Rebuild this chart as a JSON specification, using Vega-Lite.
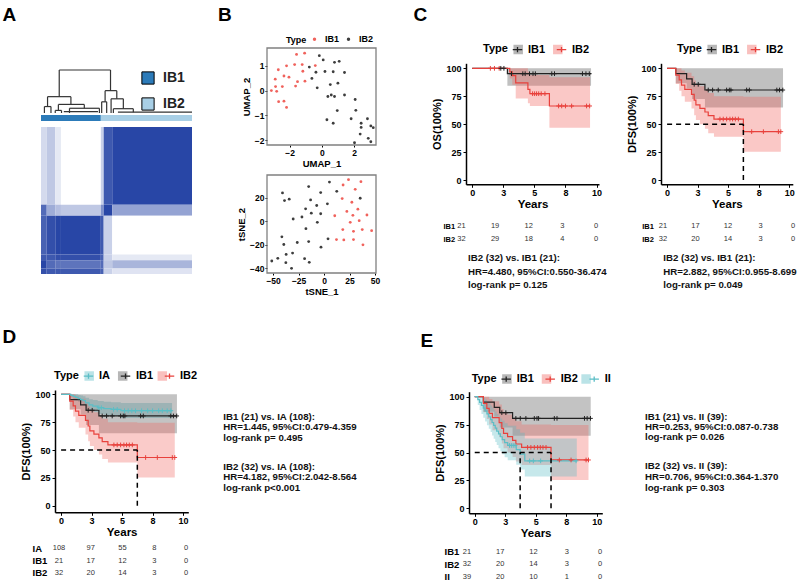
{
  "$schema": "https://vega.github.io/schema/vega-lite/v6.json",
  "width": 799,
  "height": 583,
  "autosize": {"type": "none"},
  "padding": 0,
  "background": "white",
  "config": {
    "font": "Liberation Sans",
    "view": {"stroke": null},
    "axis": {"grid": false, "labelColor": "black", "titleColor": "black", "labelFontWeight": "bold", "titleFontWeight": "bold", "domainColor": "black", "tickColor": "black"},
    "legend": {"labelColor": "black", "titleColor": "black", "padding": 0}
  },
  "datasets": {
    "dendro": [
      {"x1": 6.4, "x2": 24.4, "h1": 1, "h2": 1},
      {"x1": 6.4, "x2": 6.4, "h1": 1, "h2": 0.38},
      {"x1": 24.4, "x2": 24.4, "h1": 1, "h2": 0.52},
      {"x1": 2.3, "x2": 10.5, "h1": 0.38, "h2": 0.38},
      {"x1": 2.3, "x2": 2.3, "h1": 0.38, "h2": 0.15},
      {"x1": 10.5, "x2": 10.5, "h1": 0.38, "h2": 0.2},
      {"x1": 1.2, "x2": 3.5, "h1": 0.15, "h2": 0.15},
      {"x1": 1.2, "x2": 1.2, "h1": 0.15, "h2": 0},
      {"x1": 3.5, "x2": 3.5, "h1": 0.15, "h2": 0},
      {"x1": 6.1, "x2": 15.2, "h1": 0.2, "h2": 0.2},
      {"x1": 6.1, "x2": 6.1, "h1": 0.2, "h2": 0.06},
      {"x1": 15.2, "x2": 15.2, "h1": 0.2, "h2": 0.11},
      {"x1": 5, "x2": 7.2, "h1": 0.06, "h2": 0.06},
      {"x1": 5, "x2": 5, "h1": 0.06, "h2": 0},
      {"x1": 7.2, "x2": 7.2, "h1": 0.06, "h2": 0},
      {"x1": 10, "x2": 20.5, "h1": 0.11, "h2": 0.11},
      {"x1": 10, "x2": 10, "h1": 0.11, "h2": 0},
      {"x1": 20.5, "x2": 20.5, "h1": 0.11, "h2": 0},
      {"x1": 8, "x2": 20, "h1": 0.03, "h2": 0.03},
      {"x1": 22.5, "x2": 26.6, "h1": 0.52, "h2": 0.52},
      {"x1": 22.5, "x2": 22.5, "h1": 0.52, "h2": 0.26},
      {"x1": 26.6, "x2": 26.6, "h1": 0.52, "h2": 0.33},
      {"x1": 21.3, "x2": 23.05, "h1": 0.26, "h2": 0.26},
      {"x1": 21.3, "x2": 21.3, "h1": 0.26, "h2": 0},
      {"x1": 23.05, "x2": 23.05, "h1": 0.26, "h2": 0},
      {"x1": 24.6, "x2": 28.9, "h1": 0.33, "h2": 0.33},
      {"x1": 24.6, "x2": 24.6, "h1": 0.33, "h2": 0},
      {"x1": 28.9, "x2": 28.9, "h1": 0.33, "h2": 0.1},
      {"x1": 25.4, "x2": 32.4, "h1": 0.1, "h2": 0.1},
      {"x1": 25.4, "x2": 25.4, "h1": 0.1, "h2": 0},
      {"x1": 32.4, "x2": 32.4, "h1": 0.1, "h2": 0.02},
      {"x1": 27, "x2": 53, "h1": 0.02, "h2": 0.02}
    ],
    "subtype": [
      {"type": "IB1", "i0": 0, "i1": 21},
      {"type": "IB2", "i0": 21, "i1": 53}
    ],
    "consensus": [
      {"c0": 0, "c1": 2, "r0": 0, "r1": 28, "v": 0.2},
      {"c0": 2, "c1": 5, "r0": 0, "r1": 28, "v": 0.3},
      {"c0": 5, "c1": 7, "r0": 0, "r1": 28, "v": 0.12},
      {"c0": 7, "c1": 21, "r0": 0, "r1": 28, "v": 0},
      {"c0": 21, "c1": 22, "r0": 0, "r1": 28, "v": 0.25},
      {"c0": 22, "c1": 25, "r0": 0, "r1": 28, "v": 0.9},
      {"c0": 25, "c1": 53, "r0": 0, "r1": 28, "v": 1},
      {"c0": 0, "c1": 2, "r0": 28, "r1": 32, "v": 0.8},
      {"c0": 2, "c1": 5, "r0": 28, "r1": 32, "v": 0.45},
      {"c0": 5, "c1": 7, "r0": 28, "r1": 32, "v": 0.35},
      {"c0": 7, "c1": 21, "r0": 28, "r1": 32, "v": 0.3},
      {"c0": 21, "c1": 22, "r0": 28, "r1": 32, "v": 0.6},
      {"c0": 22, "c1": 25, "r0": 28, "r1": 32, "v": 1},
      {"c0": 25, "c1": 53, "r0": 28, "r1": 32, "v": 0.5},
      {"c0": 0, "c1": 2, "r0": 32, "r1": 46, "v": 0.85},
      {"c0": 2, "c1": 5, "r0": 32, "r1": 46, "v": 0.95},
      {"c0": 5, "c1": 7, "r0": 32, "r1": 46, "v": 1},
      {"c0": 7, "c1": 21, "r0": 32, "r1": 46, "v": 1},
      {"c0": 21, "c1": 22, "r0": 32, "r1": 46, "v": 0.9},
      {"c0": 22, "c1": 25, "r0": 32, "r1": 46, "v": 0.25},
      {"c0": 25, "c1": 53, "r0": 32, "r1": 46, "v": 0},
      {"c0": 0, "c1": 2, "r0": 46, "r1": 48, "v": 0.9},
      {"c0": 2, "c1": 5, "r0": 46, "r1": 48, "v": 0.9},
      {"c0": 5, "c1": 7, "r0": 46, "r1": 48, "v": 0.95},
      {"c0": 7, "c1": 21, "r0": 46, "r1": 48, "v": 0.95},
      {"c0": 21, "c1": 22, "r0": 46, "r1": 48, "v": 0.85},
      {"c0": 22, "c1": 25, "r0": 46, "r1": 48, "v": 0.25},
      {"c0": 25, "c1": 53, "r0": 46, "r1": 48, "v": 0.12},
      {"c0": 0, "c1": 2, "r0": 48, "r1": 51, "v": 1},
      {"c0": 2, "c1": 5, "r0": 48, "r1": 51, "v": 0.8},
      {"c0": 5, "c1": 7, "r0": 48, "r1": 51, "v": 0.75},
      {"c0": 7, "c1": 21, "r0": 48, "r1": 51, "v": 0.75},
      {"c0": 21, "c1": 22, "r0": 48, "r1": 51, "v": 0.8},
      {"c0": 22, "c1": 25, "r0": 48, "r1": 51, "v": 0.3},
      {"c0": 25, "c1": 53, "r0": 48, "r1": 51, "v": 0.4},
      {"c0": 0, "c1": 2, "r0": 51, "r1": 53, "v": 0.95},
      {"c0": 2, "c1": 5, "r0": 51, "r1": 53, "v": 0.9},
      {"c0": 5, "c1": 7, "r0": 51, "r1": 53, "v": 0.9},
      {"c0": 7, "c1": 21, "r0": 51, "r1": 53, "v": 0.9},
      {"c0": 21, "c1": 22, "r0": 51, "r1": 53, "v": 0.85},
      {"c0": 22, "c1": 25, "r0": 51, "r1": 53, "v": 0.25},
      {"c0": 25, "c1": 53, "r0": 51, "r1": 53, "v": 0.15}
    ],
    "umap": [
      {"x": -1.57, "y": 1.46, "type": "IB1"}, {"x": -1.07, "y": 1.51, "type": "IB1"}, {"x": -2.7, "y": 0.84, "type": "IB1"},
      {"x": -2.19, "y": 1.0, "type": "IB1"}, {"x": -2.89, "y": 0.46, "type": "IB1"}, {"x": -2.35, "y": 0.59, "type": "IB1"},
      {"x": -2.04, "y": 0.54, "type": "IB1"}, {"x": -1.69, "y": 1.05, "type": "IB1"}, {"x": -1.22, "y": 1.05, "type": "IB1"},
      {"x": -1.18, "y": 0.78, "type": "IB1"}, {"x": -0.41, "y": 1.01, "type": "IB1"}, {"x": -1.51, "y": 0.36, "type": "IB1"},
      {"x": -1.05, "y": 0.38, "type": "IB1"}, {"x": -1.63, "y": 0.18, "type": "IB1"}, {"x": -2.87, "y": 0.16, "type": "IB1"},
      {"x": -2.45, "y": 0.16, "type": "IB1"}, {"x": -3.13, "y": 0.0, "type": "IB1"}, {"x": -2.8, "y": -0.03, "type": "IB1"},
      {"x": -2.68, "y": -0.45, "type": "IB1"}, {"x": -2.35, "y": -0.43, "type": "IB1"}, {"x": -2.19, "y": -0.68, "type": "IB1"},
      {"x": -0.78, "y": 0.95, "type": "IB2"}, {"x": -0.16, "y": 1.41, "type": "IB2"}, {"x": 0.08, "y": 1.24, "type": "IB2"},
      {"x": -0.37, "y": 0.74, "type": "IB2"}, {"x": -0.62, "y": 0.49, "type": "IB2"}, {"x": -0.29, "y": 0.11, "type": "IB2"},
      {"x": 0.19, "y": 0.77, "type": "IB2"}, {"x": 0.7, "y": 0.76, "type": "IB2"}, {"x": 0.78, "y": 1.14, "type": "IB2"},
      {"x": 1.07, "y": 1.18, "type": "IB2"}, {"x": 1.4, "y": 0.73, "type": "IB2"}, {"x": 0.52, "y": 0.24, "type": "IB2"},
      {"x": 0.99, "y": 0.3, "type": "IB2"}, {"x": 0.37, "y": -0.24, "type": "IB2"}, {"x": 0.58, "y": -0.18, "type": "IB2"},
      {"x": 0.78, "y": -0.24, "type": "IB2"}, {"x": 1.4, "y": -0.18, "type": "IB2"}, {"x": 2.06, "y": -0.36, "type": "IB2"},
      {"x": 0.95, "y": -0.81, "type": "IB2"}, {"x": 2.1, "y": -0.8, "type": "IB2"}, {"x": 0.31, "y": -1.18, "type": "IB2"},
      {"x": 0.7, "y": -1.32, "type": "IB2"}, {"x": 1.81, "y": -1.14, "type": "IB2"}, {"x": 2.82, "y": -1.14, "type": "IB2"},
      {"x": 2.43, "y": -1.32, "type": "IB2"}, {"x": 2.43, "y": -1.49, "type": "IB2"}, {"x": 3.03, "y": -1.43, "type": "IB2"},
      {"x": 3.18, "y": -1.5, "type": "IB2"}, {"x": 2.37, "y": -1.76, "type": "IB2"}, {"x": 2.87, "y": -1.93, "type": "IB2"},
      {"x": 3.03, "y": -2.07, "type": "IB2"}, {"x": 2.02, "y": -2.11, "type": "IB2"}
    ],
    "tsne": [
      {"x": -40.8, "y": 24.2, "type": "IB2"}, {"x": -38.8, "y": 17.7, "type": "IB2"}, {"x": -34.2, "y": 18.9, "type": "IB2"},
      {"x": -15.1, "y": 29.6, "type": "IB2"}, {"x": -13.2, "y": 18.3, "type": "IB2"}, {"x": -3.3, "y": 24.5, "type": "IB2"},
      {"x": 5.3, "y": 33.5, "type": "IB2"}, {"x": 12.5, "y": 25.6, "type": "IB2"}, {"x": 3.3, "y": 14.9, "type": "IB2"},
      {"x": -7.2, "y": 13.5, "type": "IB2"}, {"x": -18.1, "y": 10.7, "type": "IB2"}, {"x": -12.5, "y": 7.0, "type": "IB2"},
      {"x": -3.3, "y": 6.5, "type": "IB2"}, {"x": -30.3, "y": 2.0, "type": "IB2"}, {"x": -21.7, "y": 3.7, "type": "IB2"},
      {"x": -6.6, "y": -0.8, "type": "IB2"}, {"x": -17.8, "y": -6.2, "type": "IB2"}, {"x": -41.4, "y": -13.2, "type": "IB2"},
      {"x": -39.5, "y": -19.7, "type": "IB2"}, {"x": -26.3, "y": -18.0, "type": "IB2"}, {"x": -15.1, "y": -17.2, "type": "IB2"},
      {"x": 3.9, "y": -14.9, "type": "IB2"}, {"x": -3.0, "y": -22.0, "type": "IB2"}, {"x": -37.2, "y": -28.2, "type": "IB2"},
      {"x": -30.9, "y": -27.0, "type": "IB2"}, {"x": -45.4, "y": -31.5, "type": "IB2"}, {"x": -51.3, "y": -33.8, "type": "IB2"},
      {"x": -37.5, "y": -35.2, "type": "IB2"}, {"x": -31.9, "y": -40.0, "type": "IB2"}, {"x": -19.1, "y": -31.8, "type": "IB2"},
      {"x": -14.5, "y": -34.9, "type": "IB2"}, {"x": 35.5, "y": 19.7, "type": "IB2"},
      {"x": 18.7, "y": 31.0, "type": "IB1"}, {"x": 24.0, "y": 35.5, "type": "IB1"}, {"x": 36.2, "y": 33.8, "type": "IB1"},
      {"x": 30.6, "y": 27.3, "type": "IB1"}, {"x": 17.8, "y": 19.4, "type": "IB1"}, {"x": 27.3, "y": 16.3, "type": "IB1"},
      {"x": 22.4, "y": 8.5, "type": "IB1"}, {"x": 33.2, "y": 10.4, "type": "IB1"}, {"x": 42.1, "y": 5.4, "type": "IB1"},
      {"x": 28.3, "y": 5.1, "type": "IB1"}, {"x": 10.5, "y": 4.8, "type": "IB1"}, {"x": 25.7, "y": -0.8, "type": "IB1"},
      {"x": 34.5, "y": 0.6, "type": "IB1"}, {"x": 18.4, "y": -7.0, "type": "IB1"}, {"x": 28.9, "y": -8.5, "type": "IB1"},
      {"x": 37.5, "y": -7.0, "type": "IB1"}, {"x": 46.7, "y": -7.9, "type": "IB1"}, {"x": 12.2, "y": -15.5, "type": "IB1"},
      {"x": 19.4, "y": -15.8, "type": "IB1"}, {"x": 28.9, "y": -15.5, "type": "IB1"}, {"x": 38.2, "y": -20.0, "type": "IB1"}
    ],
    "os": [
      {"g": "IB1", "t": 0, "s": 100, "lo": 100, "hi": 100},
      {"g": "IB1", "t": 2.83, "s": 95.2, "lo": 84.5, "hi": 100},
      {"g": "IB1", "t": 9.56, "s": 95.2, "lo": 84.5, "hi": 100},
      {"g": "IB2", "t": 0, "s": 100, "lo": 100, "hi": 100},
      {"g": "IB2", "t": 3.02, "s": 96.8, "lo": 90.8, "hi": 100},
      {"g": "IB2", "t": 3.22, "s": 93.5, "lo": 85.4, "hi": 100},
      {"g": "IB2", "t": 3.5, "s": 86.9, "lo": 73.1, "hi": 100},
      {"g": "IB2", "t": 4.48, "s": 81.2, "lo": 68.7, "hi": 97},
      {"g": "IB2", "t": 4.64, "s": 77.3, "lo": 66.3, "hi": 94},
      {"g": "IB2", "t": 6.21, "s": 66.3, "lo": 46.9, "hi": 92},
      {"g": "IB2", "t": 9.48, "s": 66.3, "lo": 46.9, "hi": 92}
    ],
    "os_cens": [
      {"g": "IB2", "t": 1.46, "s": 100}, {"g": "IB2", "t": 1.79, "s": 100}, {"g": "IB2", "t": 2.17, "s": 100},
      {"g": "IB1", "t": 2.3, "s": 100}, {"g": "IB1", "t": 2.55, "s": 100},
      {"g": "IB1", "t": 3.16, "s": 95.2}, {"g": "IB1", "t": 4.07, "s": 95.2}, {"g": "IB1", "t": 4.26, "s": 95.2},
      {"g": "IB1", "t": 4.61, "s": 95.2}, {"g": "IB1", "t": 4.89, "s": 95.2}, {"g": "IB1", "t": 5.08, "s": 95.2},
      {"g": "IB1", "t": 6.4, "s": 95.2}, {"g": "IB1", "t": 6.62, "s": 95.2}, {"g": "IB1", "t": 8.87, "s": 95.2},
      {"g": "IB1", "t": 9.15, "s": 95.2}, {"g": "IB1", "t": 9.42, "s": 95.2},
      {"g": "IB2", "t": 4.86, "s": 77.3}, {"g": "IB2", "t": 5.02, "s": 77.3}, {"g": "IB2", "t": 5.18, "s": 77.3},
      {"g": "IB2", "t": 5.35, "s": 77.3}, {"g": "IB2", "t": 5.55, "s": 77.3}, {"g": "IB2", "t": 5.85, "s": 77.3},
      {"g": "IB2", "t": 6.95, "s": 66.3}, {"g": "IB2", "t": 7.2, "s": 66.3}, {"g": "IB2", "t": 7.5, "s": 66.3},
      {"g": "IB2", "t": 8.0, "s": 66.3}, {"g": "IB2", "t": 9.2, "s": 66.3}, {"g": "IB2", "t": 9.45, "s": 66.3}
    ],
    "dfs": [
      {"g": "IB1", "t": 0, "s": 100, "lo": 100, "hi": 100},
      {"g": "IB1", "t": 0.71, "s": 95.2, "lo": 86.6, "hi": 100},
      {"g": "IB1", "t": 1.6, "s": 90.5, "lo": 82, "hi": 100},
      {"g": "IB1", "t": 2.05, "s": 85.7, "lo": 72.5, "hi": 100},
      {"g": "IB1", "t": 3.1, "s": 80.6, "lo": 65, "hi": 100},
      {"g": "IB1", "t": 9.5, "s": 80.6, "lo": 65, "hi": 100},
      {"g": "IB2", "t": 0, "s": 100, "lo": 100, "hi": 100},
      {"g": "IB2", "t": 0.71, "s": 94, "lo": 86, "hi": 100},
      {"g": "IB2", "t": 0.99, "s": 89.6, "lo": 80, "hi": 100},
      {"g": "IB2", "t": 1.18, "s": 85, "lo": 75, "hi": 98},
      {"g": "IB2", "t": 1.45, "s": 81.2, "lo": 70, "hi": 96},
      {"g": "IB2", "t": 2.0, "s": 76.7, "lo": 64, "hi": 93},
      {"g": "IB2", "t": 2.22, "s": 71.6, "lo": 58, "hi": 89},
      {"g": "IB2", "t": 2.36, "s": 67.2, "lo": 53.7, "hi": 86},
      {"g": "IB2", "t": 2.69, "s": 64.2, "lo": 50, "hi": 84},
      {"g": "IB2", "t": 3.1, "s": 60.9, "lo": 46, "hi": 81},
      {"g": "IB2", "t": 3.37, "s": 57.6, "lo": 42, "hi": 78},
      {"g": "IB2", "t": 3.84, "s": 54.6, "lo": 38.8, "hi": 75},
      {"g": "IB2", "t": 6.25, "s": 43.3, "lo": 25.4, "hi": 74.6},
      {"g": "IB2", "t": 9.32, "s": 43.3, "lo": 25.4, "hi": 74.6},
      {"g": "IA", "t": 0, "s": 100, "lo": 100, "hi": 100},
      {"g": "IA", "t": 0.8, "s": 99.1, "lo": 97.3, "hi": 100},
      {"g": "IA", "t": 1.0, "s": 98.1, "lo": 95.7, "hi": 100},
      {"g": "IA", "t": 1.2, "s": 97.2, "lo": 94.4, "hi": 100},
      {"g": "IA", "t": 1.4, "s": 96.2, "lo": 93.1, "hi": 99.5},
      {"g": "IA", "t": 1.6, "s": 95.3, "lo": 91.8, "hi": 98.9},
      {"g": "IA", "t": 1.8, "s": 94.3, "lo": 90.5, "hi": 98.2},
      {"g": "IA", "t": 2.0, "s": 92.4, "lo": 88.0, "hi": 97.0},
      {"g": "IA", "t": 2.3, "s": 90.5, "lo": 85.6, "hi": 95.7},
      {"g": "IA", "t": 2.6, "s": 89.5, "lo": 84.3, "hi": 95.0},
      {"g": "IA", "t": 3.0, "s": 88.0, "lo": 82.4, "hi": 94.0},
      {"g": "IA", "t": 3.5, "s": 87.1, "lo": 81.2, "hi": 93.3},
      {"g": "IA", "t": 4.1, "s": 86.5, "lo": 80.4, "hi": 92.9},
      {"g": "IA", "t": 4.9, "s": 85.3, "lo": 78.8, "hi": 92.2},
      {"g": "IA", "t": 9.1, "s": 85.3, "lo": 78.8, "hi": 92.2},
      {"g": "II", "t": 0, "s": 100, "lo": 100, "hi": 100},
      {"g": "II", "t": 0.25, "s": 97.4, "lo": 92.5, "hi": 100},
      {"g": "II", "t": 0.4, "s": 94.9, "lo": 88.2, "hi": 100},
      {"g": "II", "t": 0.55, "s": 92.3, "lo": 84.6, "hi": 100},
      {"g": "II", "t": 0.7, "s": 89.7, "lo": 81.1, "hi": 99},
      {"g": "II", "t": 0.85, "s": 87.2, "lo": 77.8, "hi": 97.5},
      {"g": "II", "t": 1.0, "s": 84.6, "lo": 74.5, "hi": 95.8},
      {"g": "II", "t": 1.15, "s": 82.0, "lo": 71.3, "hi": 94},
      {"g": "II", "t": 1.3, "s": 79.5, "lo": 68.3, "hi": 92.2},
      {"g": "II", "t": 1.42, "s": 76.9, "lo": 65.3, "hi": 90.4},
      {"g": "II", "t": 1.55, "s": 74.4, "lo": 62.4, "hi": 88.5},
      {"g": "II", "t": 1.68, "s": 71.8, "lo": 59.5, "hi": 86.6},
      {"g": "II", "t": 1.8, "s": 69.2, "lo": 56.7, "hi": 84.6},
      {"g": "II", "t": 1.95, "s": 66.7, "lo": 53.9, "hi": 82.6},
      {"g": "II", "t": 2.1, "s": 64.1, "lo": 51.2, "hi": 80.5},
      {"g": "II", "t": 2.25, "s": 61.5, "lo": 48.5, "hi": 78.4},
      {"g": "II", "t": 2.45, "s": 58.9, "lo": 45.8, "hi": 76.2},
      {"g": "II", "t": 2.7, "s": 56.3, "lo": 43.1, "hi": 74},
      {"g": "II", "t": 3.4, "s": 52.5, "lo": 39, "hi": 70.8},
      {"g": "II", "t": 3.72, "s": 48.5, "lo": 34.8, "hi": 67.6},
      {"g": "II", "t": 4.1, "s": 42.5, "lo": 28.5, "hi": 62.5},
      {"g": "II", "t": 8.36, "s": 42.5, "lo": 28.5, "hi": 62.5}
    ],
    "dfs_cens": [
      {"g": "IB1", "t": 2.22, "s": 85.7}, {"g": "IB1", "t": 2.55, "s": 85.7}, {"g": "IB1", "t": 3.37, "s": 80.6},
      {"g": "IB1", "t": 3.73, "s": 80.6}, {"g": "IB1", "t": 4.19, "s": 80.6}, {"g": "IB1", "t": 4.88, "s": 80.6},
      {"g": "IB1", "t": 5.1, "s": 80.6}, {"g": "IB1", "t": 5.23, "s": 80.6}, {"g": "IB1", "t": 6.52, "s": 80.6},
      {"g": "IB1", "t": 6.74, "s": 80.6}, {"g": "IB1", "t": 8.99, "s": 80.6}, {"g": "IB1", "t": 9.21, "s": 80.6},
      {"g": "IB1", "t": 9.48, "s": 80.6},
      {"g": "IB2", "t": 4.33, "s": 54.6}, {"g": "IB2", "t": 4.6, "s": 54.6}, {"g": "IB2", "t": 4.88, "s": 54.6},
      {"g": "IB2", "t": 5.15, "s": 54.6}, {"g": "IB2", "t": 5.37, "s": 54.6}, {"g": "IB2", "t": 5.59, "s": 54.6},
      {"g": "IB2", "t": 5.84, "s": 54.6}, {"g": "IB2", "t": 6.93, "s": 43.3}, {"g": "IB2", "t": 7.89, "s": 43.3},
      {"g": "IB2", "t": 9.12, "s": 43.3}, {"g": "IB2", "t": 9.32, "s": 43.3},
      {"g": "IA", "t": 3.1, "s": 88}, {"g": "IA", "t": 3.3, "s": 88}, {"g": "IA", "t": 4.3, "s": 86.5},
      {"g": "IA", "t": 4.6, "s": 86.5}, {"g": "IA", "t": 5.2, "s": 85.3}, {"g": "IA", "t": 5.5, "s": 85.3},
      {"g": "IA", "t": 5.8, "s": 85.3}, {"g": "IA", "t": 6.1, "s": 85.3}, {"g": "IA", "t": 6.6, "s": 85.3},
      {"g": "IA", "t": 7.1, "s": 85.3}, {"g": "IA", "t": 7.5, "s": 85.3}, {"g": "IA", "t": 8.0, "s": 85.3},
      {"g": "IA", "t": 8.3, "s": 85.3}, {"g": "IA", "t": 8.7, "s": 85.3}, {"g": "IA", "t": 9.0, "s": 85.3},
      {"g": "II", "t": 2.85, "s": 56.3}, {"g": "II", "t": 3.0, "s": 56.3}, {"g": "II", "t": 3.15, "s": 56.3},
      {"g": "II", "t": 3.3, "s": 56.3}, {"g": "II", "t": 4.5, "s": 42.5}, {"g": "II", "t": 4.8, "s": 42.5},
      {"g": "II", "t": 5.4, "s": 42.5}, {"g": "II", "t": 8.3, "s": 42.5}
    ],
    "median": [
      {"p": "C2", "t0": 0, "t1": 6.25, "s0": 50, "s1": 50},
      {"p": "C2", "t0": 6.25, "t1": 6.25, "s0": 0, "s1": 50},
      {"p": "D", "t0": 0, "t1": 6.25, "s0": 50, "s1": 50},
      {"p": "D", "t0": 6.25, "t1": 6.25, "s0": 0, "s1": 50},
      {"p": "E", "t0": 0, "t1": 6.25, "s0": 50, "s1": 50},
      {"p": "E", "t0": 3.72, "t1": 3.72, "s0": 0, "s1": 50},
      {"p": "E", "t0": 6.25, "t1": 6.25, "s0": 0, "s1": 50}
    ],
    "risk": [
      {"p": "C1", "g": "IB1", "t": 0, "n": 21}, {"p": "C1", "g": "IB1", "t": 2.5, "n": 19}, {"p": "C1", "g": "IB1", "t": 5, "n": 12}, {"p": "C1", "g": "IB1", "t": 7.5, "n": 3}, {"p": "C1", "g": "IB1", "t": 10, "n": 0},
      {"p": "C1", "g": "IB2", "t": 0, "n": 32}, {"p": "C1", "g": "IB2", "t": 2.5, "n": 29}, {"p": "C1", "g": "IB2", "t": 5, "n": 18}, {"p": "C1", "g": "IB2", "t": 7.5, "n": 4}, {"p": "C1", "g": "IB2", "t": 10, "n": 0},
      {"p": "C2", "g": "IB1", "t": 0, "n": 21}, {"p": "C2", "g": "IB1", "t": 2.5, "n": 17}, {"p": "C2", "g": "IB1", "t": 5, "n": 12}, {"p": "C2", "g": "IB1", "t": 7.5, "n": 3}, {"p": "C2", "g": "IB1", "t": 10, "n": 0},
      {"p": "C2", "g": "IB2", "t": 0, "n": 32}, {"p": "C2", "g": "IB2", "t": 2.5, "n": 20}, {"p": "C2", "g": "IB2", "t": 5, "n": 14}, {"p": "C2", "g": "IB2", "t": 7.5, "n": 3}, {"p": "C2", "g": "IB2", "t": 10, "n": 0},
      {"p": "D", "g": "IA", "t": 0, "n": 108}, {"p": "D", "g": "IA", "t": 2.5, "n": 97}, {"p": "D", "g": "IA", "t": 5, "n": 55}, {"p": "D", "g": "IA", "t": 7.5, "n": 8}, {"p": "D", "g": "IA", "t": 10, "n": 0},
      {"p": "D", "g": "IB1", "t": 0, "n": 21}, {"p": "D", "g": "IB1", "t": 2.5, "n": 17}, {"p": "D", "g": "IB1", "t": 5, "n": 12}, {"p": "D", "g": "IB1", "t": 7.5, "n": 3}, {"p": "D", "g": "IB1", "t": 10, "n": 0},
      {"p": "D", "g": "IB2", "t": 0, "n": 32}, {"p": "D", "g": "IB2", "t": 2.5, "n": 20}, {"p": "D", "g": "IB2", "t": 5, "n": 14}, {"p": "D", "g": "IB2", "t": 7.5, "n": 3}, {"p": "D", "g": "IB2", "t": 10, "n": 0},
      {"p": "E", "g": "IB1", "t": 0, "n": 21}, {"p": "E", "g": "IB1", "t": 2.5, "n": 17}, {"p": "E", "g": "IB1", "t": 5, "n": 12}, {"p": "E", "g": "IB1", "t": 7.5, "n": 3}, {"p": "E", "g": "IB1", "t": 10, "n": 0},
      {"p": "E", "g": "IB2", "t": 0, "n": 32}, {"p": "E", "g": "IB2", "t": 2.5, "n": 20}, {"p": "E", "g": "IB2", "t": 5, "n": 14}, {"p": "E", "g": "IB2", "t": 7.5, "n": 3}, {"p": "E", "g": "IB2", "t": 10, "n": 0},
      {"p": "E", "g": "II", "t": 0, "n": 39}, {"p": "E", "g": "II", "t": 2.5, "n": 20}, {"p": "E", "g": "II", "t": 5, "n": 10}, {"p": "E", "g": "II", "t": 7.5, "n": 1}, {"p": "E", "g": "II", "t": 10, "n": 0}
    ],
    "stats": [
      {"p": "C1", "line": 1, "txt": "IB2 (32) vs. IB1 (21):"},
      {"p": "C1", "line": 2, "txt": "HR=4.480, 95%CI:0.550-36.474"},
      {"p": "C1", "line": 3, "txt": "log-rank  p= 0.125"},
      {"p": "C2", "line": 1, "txt": "IB2 (32) vs. IB1 (21):"},
      {"p": "C2", "line": 2, "txt": "HR=2.882, 95%CI:0.955-8.699"},
      {"p": "C2", "line": 3, "txt": "log-rank  p= 0.049"},
      {"p": "D1", "line": 1, "txt": "IB1 (21) vs. IA (108):"},
      {"p": "D1", "line": 2, "txt": "HR=1.445, 95%CI:0.479-4.359"},
      {"p": "D1", "line": 3, "txt": "log-rank  p= 0.495"},
      {"p": "D2", "line": 1, "txt": "IB2 (32) vs. IA (108):"},
      {"p": "D2", "line": 2, "txt": "HR=4.182, 95%CI:2.042-8.564"},
      {"p": "D2", "line": 3, "txt": "log-rank  p<0.001"},
      {"p": "E1", "line": 1, "txt": "IB1 (21) vs. II (39):"},
      {"p": "E1", "line": 2, "txt": "HR=0.253, 95%CI:0.087-0.738"},
      {"p": "E1", "line": 3, "txt": "log-rank  p= 0.026"},
      {"p": "E2", "line": 1, "txt": "IB2 (32) vs. II (39):"},
      {"p": "E2", "line": 2, "txt": "HR=0.706, 95%CI:0.364-1.370"},
      {"p": "E2", "line": 3, "txt": "log-rank  p= 0.303"}
    ]
  },
  "resolve": {"scale": {"x": "independent", "y": "independent", "color": "independent", "fill": "independent", "stroke": "independent"}},
  "layer": [
    {
      "data": {"name": "dendro"},
      "mark": {"type": "rule", "color": "#333333", "strokeWidth": 1.2},
      "encoding": {
        "x": {"field": "x1", "type": "quantitative", "scale": {"domain": [0, 53], "range": [41, 192], "nice": false, "zero": false}, "axis": null},
        "x2": {"field": "x2"},
        "y": {"field": "h1", "type": "quantitative", "scale": {"domain": [0, 1], "range": [113, 70], "nice": false, "zero": false},
              "axis": {"orient": "left", "offset": 0, "domain": false, "ticks": false, "labels": false, "title": "A", "titleAngle": 0, "titleX": 2, "titleY": 20.5, "titleAlign": "left", "titleBaseline": "alphabetic", "titleFontSize": 19, "titleFontWeight": "bold"}},
        "y2": {"field": "h2"}
      }
    },
    {
      "data": {"name": "subtype"},
      "mark": {"type": "rect"},
      "encoding": {
        "x": {"field": "i0", "type": "quantitative", "scale": {"domain": [0, 53], "range": [41, 192], "nice": false, "zero": false},
              "axis": {"orient": "top", "offset": 0, "domain": false, "ticks": false, "labels": false, "title": "B", "titleAngle": 0, "titleX": 217.5, "titleY": 20.5, "titleAlign": "left", "titleBaseline": "alphabetic", "titleFontSize": 19, "titleFontWeight": "bold"}},
        "x2": {"field": "i1"},
        "y": {"datum": 0, "type": "quantitative", "scale": {"domain": [0, 1], "range": [121, 115], "nice": false, "zero": false}, "axis": null},
        "y2": {"datum": 1},
        "color": {"field": "type", "type": "nominal", "scale": {"domain": ["IB1", "IB2"], "range": ["#2c7bb9", "#a8cfe6"]},
                  "legend": {"orient": "none", "legendX": 141, "legendY": 71, "title": null, "direction": "vertical", "symbolType": "square", "symbolSize": 150, "symbolStrokeColor": "black", "symbolStrokeWidth": 1, "labelFontSize": 14, "labelFontWeight": "bold", "labelColor": "#222222", "labelOffset": 8, "rowPadding": 8}}
      }
    },
    {
      "data": {"name": "consensus"},
      "mark": {"type": "rect"},
      "encoding": {
        "x": {"field": "c0", "type": "quantitative", "scale": {"domain": [0, 53], "range": [41, 192], "nice": false, "zero": false}, "axis": null},
        "x2": {"field": "c1"},
        "y": {"field": "r0", "type": "quantitative", "scale": {"domain": [0, 53], "range": [127, 274], "nice": false, "zero": false}, "axis": null},
        "y2": {"field": "r1"},
        "color": {"field": "v", "type": "quantitative", "scale": {"domain": [0, 1], "range": ["#ffffff", "#2846a6"], "interpolate": "rgb"}, "legend": null}
      }
    },
    {
      "data": {"values": [{}]},
      "mark": {"type": "rect", "filled": false, "color": "#808080", "strokeWidth": 1.3},
      "encoding": {
        "x": {"datum": -3.4, "type": "quantitative", "scale": {"domain": [-3.4, 3.35], "range": [267, 376], "nice": false, "zero": false}, "axis": null},
        "x2": {"datum": 3.35},
        "y": {"datum": -2.2, "type": "quantitative", "scale": {"domain": [-2.2, 1.72], "range": [145, 48], "nice": false, "zero": false}, "axis": null},
        "y2": {"datum": 1.72}
      }
    },
    {
      "data": {"name": "umap"},
      "mark": {"type": "circle", "size": 8, "opacity": 1},
      "encoding": {
        "x": {"field": "x", "type": "quantitative", "scale": {"domain": [-3.4, 3.35], "range": [267, 376], "nice": false, "zero": false},
              "axis": {"orient": "bottom", "offset": -438, "values": [-2, 0, 2], "domain": false, "tickSize": 2, "labelPadding": 1, "labelFontSize": 8.5, "title": "UMAP_1", "titleFontSize": 9.5, "titlePadding": 2}},
        "y": {"field": "y", "type": "quantitative", "scale": {"domain": [-2.2, 1.72], "range": [145, 48], "nice": false, "zero": false},
              "axis": {"orient": "left", "offset": -267, "values": [-2, -1, 0, 1], "domain": false, "tickSize": 2, "labelPadding": 1, "labelFontSize": 8.5, "title": "UMAP_2", "titleFontSize": 9.5, "titlePadding": 3}},
        "color": {"field": "type", "type": "nominal", "scale": {"domain": ["IB1", "IB2"], "range": ["#f0625c", "#3d3d3d"]},
                  "legend": {"orient": "none", "legendX": 286, "legendY": 34.5, "direction": "horizontal", "title": "Type", "titleOrient": "left", "titleFontSize": 9, "titleFontWeight": "bold", "titlePadding": 3, "labelFontSize": 9, "labelFontWeight": "bold", "symbolType": "circle", "symbolSize": 12, "labelOffset": 6, "columnPadding": 4}}
      }
    },
    {
      "data": {"values": [{}]},
      "mark": {"type": "rect", "filled": false, "color": "#808080", "strokeWidth": 1.3},
      "encoding": {
        "x": {"datum": -56, "type": "quantitative", "scale": {"domain": [-56, 51], "range": [267, 376], "nice": false, "zero": false}, "axis": null},
        "x2": {"datum": 51},
        "y": {"datum": -44, "type": "quantitative", "scale": {"domain": [-44, 39.5], "range": [273, 175], "nice": false, "zero": false}, "axis": null},
        "y2": {"datum": 39.5}
      }
    },
    {
      "data": {"name": "tsne"},
      "mark": {"type": "circle", "size": 8, "opacity": 1},
      "encoding": {
        "x": {"field": "x", "type": "quantitative", "scale": {"domain": [-56, 51], "range": [267, 376], "nice": false, "zero": false},
              "axis": {"orient": "bottom", "offset": -310, "values": [-50, -25, 0, 25, 50], "domain": false, "tickSize": 2, "labelPadding": 1, "labelFontSize": 8.5, "title": "tSNE_1", "titleFontSize": 9.5, "titlePadding": 2}},
        "y": {"field": "y", "type": "quantitative", "scale": {"domain": [-44, 39.5], "range": [273, 175], "nice": false, "zero": false},
              "axis": {"orient": "left", "offset": -267, "values": [-40, -20, 0, 20], "domain": false, "tickSize": 2, "labelPadding": 1, "labelFontSize": 8.5, "title": "tSNE_2", "titleFontSize": 9.5, "titlePadding": 3}},
        "color": {"field": "type", "type": "nominal", "scale": {"domain": ["IB1", "IB2"], "range": ["#f0625c", "#3d3d3d"]}, "legend": null}
      }
    },
    {
      "data": {"name": "os"},
      "transform": [{"filter": {"field": "g", "equal": "IB1"}}],
      "mark": {"type": "area", "interpolate": "step-after", "opacity": 0.35},
      "encoding": {
        "x": {"field": "t", "type": "quantitative", "scale": {"domain": [-0.5, 10.2], "range": [466, 599], "nice": false, "zero": false}, "axis": null},
        "y": {"field": "lo", "type": "quantitative", "scale": {"domain": [-3.8, 104.5], "range": [184.3, 63.3], "nice": false, "zero": false}, "axis": null},
        "y2": {"field": "hi"},
        "fill": {"field": "g", "type": "nominal", "scale": {"domain": ["IB1"], "range": ["#4a4a4a"]},
                 "legend": {"orient": "none", "legendX": 512.7, "legendY": 44, "direction": "horizontal", "title": null, "labelExpr": "''", "labelFontSize": 11, "symbolType": "square", "symbolSize": 90, "symbolOpacity": 0.4, "symbolStrokeWidth": 0}}
      }
    },
    {
      "data": {"name": "os"},
      "transform": [{"filter": {"field": "g", "equal": "IB2"}}],
      "mark": {"type": "area", "interpolate": "step-after", "opacity": 0.35},
      "encoding": {
        "x": {"field": "t", "type": "quantitative", "scale": {"domain": [-0.5, 10.2], "range": [466, 599], "nice": false, "zero": false}, "axis": null},
        "y": {"field": "lo", "type": "quantitative", "scale": {"domain": [-3.8, 104.5], "range": [184.3, 63.3], "nice": false, "zero": false}, "axis": null},
        "y2": {"field": "hi"},
        "fill": {"field": "g", "type": "nominal", "scale": {"domain": ["IB2"], "range": ["#f0625c"]},
                 "legend": {"orient": "none", "legendX": 552.3, "legendY": 44, "direction": "horizontal", "title": null, "labelExpr": "''", "labelFontSize": 11, "symbolType": "square", "symbolSize": 90, "symbolOpacity": 0.4, "symbolStrokeWidth": 0}}
      }
    },
    {
      "data": {"name": "os"},
      "mark": {"type": "line", "interpolate": "step-after", "strokeWidth": 1.2},
      "encoding": {
        "x": {"field": "t", "type": "quantitative", "scale": {"domain": [-0.5, 10.2], "range": [466, 599], "nice": false, "zero": false},
              "axis": {"orient": "bottom", "offset": -398.7, "values": [0, 2.5, 5, 7.5, 10], "format": "~f", "title": "Years", "tickSize": 3, "labelPadding": 1, "labelFontSize": 9, "titleFontSize": 11.5, "titlePadding": 1, "domainWidth": 1.5}},
        "y": {"field": "s", "type": "quantitative", "scale": {"domain": [-3.8, 104.5], "range": [184.3, 63.3], "nice": false, "zero": false},
              "axis": {"orient": "left", "offset": -466, "values": [0, 25, 50, 75, 100], "title": "OS(100%)", "tickSize": 3, "labelPadding": 2, "labelFontSize": 9, "titleFontSize": 11, "titlePadding": 3, "domainWidth": 1.5}},
        "stroke": {"field": "g", "type": "nominal", "scale": {"domain": ["IB1", "IB2"], "range": ["#222222", "#e8413c"]},
                   "legend": {"orient": "none", "legendX": 483, "legendY": 44, "direction": "horizontal", "title": "Type", "titleOrient": "left", "titleFontSize": 11, "titleFontWeight": "bold", "titlePadding": 4, "labelFontSize": 11, "labelFontWeight": "bold", "symbolType": "M-1,0H1M0,-0.55V0.55", "symbolSize": 90, "symbolStrokeWidth": 1.3, "labelOffset": 5, "columnPadding": 8, "encode": {"symbols": {"update": {"fill": {"value": "transparent"}}}}}}
      }
    },
    {
      "data": {"name": "os_cens"},
      "mark": {"type": "point", "shape": "M-1,0H1M0,-1V1", "size": 22, "strokeWidth": 1, "filled": false, "opacity": 1},
      "encoding": {
        "x": {"field": "t", "type": "quantitative", "scale": {"domain": [-0.5, 10.2], "range": [466, 599], "nice": false, "zero": false}, "axis": null},
        "y": {"field": "s", "type": "quantitative", "scale": {"domain": [-3.8, 104.5], "range": [184.3, 63.3], "nice": false, "zero": false}, "axis": null},
        "stroke": {"field": "g", "type": "nominal", "scale": {"domain": ["IB1", "IB2"], "range": ["#222222", "#e8413c"]}, "legend": null}
      }
    },
    {
      "data": {"name": "risk"},
      "transform": [{"filter": {"field": "p", "equal": "C1"}}],
      "mark": {"type": "text", "fontSize": 7.5, "color": "#333333"},
      "encoding": {
        "x": {"field": "t", "type": "quantitative", "scale": {"domain": [0, 10], "range": [461.5, 596], "nice": false, "zero": false},
              "axis": {"orient": "top", "offset": 0, "domain": false, "ticks": false, "labels": false, "title": "C", "titleAngle": 0, "titleX": 413, "titleY": 20.5, "titleAlign": "left", "titleBaseline": "alphabetic", "titleFontSize": 19, "titleFontWeight": "bold"}},
        "y": {"field": "g", "type": "nominal", "scale": {"domain": ["IB1", "IB2"], "range": [219.5, 245.5], "padding": 0.5},
              "axis": {"orient": "left", "offset": -443, "domain": false, "ticks": false, "tickSize": 0, "labelPadding": 0, "labelAlign": "left", "labelFontSize": 7.5, "labelFontWeight": "bold", "title": null}},
        "text": {"field": "n", "type": "quantitative"}
      }
    },
    {
      "data": {"name": "stats"},
      "transform": [{"filter": {"field": "p", "equal": "C1"}}],
      "mark": {"type": "text", "align": "left", "baseline": "middle", "fontSize": 9.7, "fontWeight": "bold", "color": "#111111"},
      "encoding": {
        "x": {"datum": 0, "type": "quantitative", "scale": {"domain": [0, 1], "range": [468, 600]}, "axis": null},
        "y": {"field": "line", "type": "ordinal", "scale": {"range": [258, 285], "padding": 0}, "axis": null},
        "text": {"field": "txt"}
      }
    },
    {
      "data": {"name": "dfs"},
      "transform": [{"filter": {"field": "g", "equal": "IB1"}}],
      "mark": {"type": "area", "interpolate": "step-after", "opacity": 0.35},
      "encoding": {
        "x": {"field": "t", "type": "quantitative", "scale": {"domain": [-0.5, 10.3], "range": [661, 792.8], "nice": false, "zero": false}, "axis": null},
        "y": {"field": "lo", "type": "quantitative", "scale": {"domain": [-3.8, 104.5], "range": [184.3, 63.3], "nice": false, "zero": false}, "axis": null},
        "y2": {"field": "hi"},
        "fill": {"field": "g", "type": "nominal", "scale": {"domain": ["IB1"], "range": ["#4a4a4a"]},
                 "legend": {"orient": "none", "legendX": 706.7, "legendY": 44, "direction": "horizontal", "title": null, "labelExpr": "''", "labelFontSize": 11, "symbolType": "square", "symbolSize": 90, "symbolOpacity": 0.4, "symbolStrokeWidth": 0}}
      }
    },
    {
      "data": {"name": "dfs"},
      "transform": [{"filter": {"field": "g", "equal": "IB2"}}],
      "mark": {"type": "area", "interpolate": "step-after", "opacity": 0.35},
      "encoding": {
        "x": {"field": "t", "type": "quantitative", "scale": {"domain": [-0.5, 10.3], "range": [661, 792.8], "nice": false, "zero": false}, "axis": null},
        "y": {"field": "lo", "type": "quantitative", "scale": {"domain": [-3.8, 104.5], "range": [184.3, 63.3], "nice": false, "zero": false}, "axis": null},
        "y2": {"field": "hi"},
        "fill": {"field": "g", "type": "nominal", "scale": {"domain": ["IB2"], "range": ["#f0625c"]},
                 "legend": {"orient": "none", "legendX": 746.3, "legendY": 44, "direction": "horizontal", "title": null, "labelExpr": "''", "labelFontSize": 11, "symbolType": "square", "symbolSize": 90, "symbolOpacity": 0.4, "symbolStrokeWidth": 0}}
      }
    },
    {
      "data": {"name": "dfs"},
      "transform": [{"filter": {"field": "g", "oneOf": ["IB1", "IB2"]}}],
      "mark": {"type": "line", "interpolate": "step-after", "strokeWidth": 1.2},
      "encoding": {
        "x": {"field": "t", "type": "quantitative", "scale": {"domain": [-0.5, 10.3], "range": [661, 792.8], "nice": false, "zero": false},
              "axis": {"orient": "bottom", "offset": -398.7, "values": [0, 2.5, 5, 7.5, 10], "format": "~f", "title": "Years", "tickSize": 3, "labelPadding": 1, "labelFontSize": 9, "titleFontSize": 11.5, "titlePadding": 1, "domainWidth": 1.5}},
        "y": {"field": "s", "type": "quantitative", "scale": {"domain": [-3.8, 104.5], "range": [184.3, 63.3], "nice": false, "zero": false},
              "axis": {"orient": "left", "offset": -661, "values": [0, 25, 50, 75, 100], "title": "DFS(100%)", "tickSize": 3, "labelPadding": 2, "labelFontSize": 9, "titleFontSize": 11, "titlePadding": 3, "domainWidth": 1.5}},
        "stroke": {"field": "g", "type": "nominal", "scale": {"domain": ["IB1", "IB2"], "range": ["#222222", "#e8413c"]},
                   "legend": {"orient": "none", "legendX": 677, "legendY": 44, "direction": "horizontal", "title": "Type", "titleOrient": "left", "titleFontSize": 11, "titleFontWeight": "bold", "titlePadding": 4, "labelFontSize": 11, "labelFontWeight": "bold", "symbolType": "M-1,0H1M0,-0.55V0.55", "symbolSize": 90, "symbolStrokeWidth": 1.3, "labelOffset": 5, "columnPadding": 8, "encode": {"symbols": {"update": {"fill": {"value": "transparent"}}}}}}
      }
    },
    {
      "data": {"name": "dfs_cens"},
      "transform": [{"filter": {"field": "g", "oneOf": ["IB1", "IB2"]}}],
      "mark": {"type": "point", "shape": "M-1,0H1M0,-1V1", "size": 22, "strokeWidth": 1, "filled": false, "opacity": 1},
      "encoding": {
        "x": {"field": "t", "type": "quantitative", "scale": {"domain": [-0.5, 10.3], "range": [661, 792.8], "nice": false, "zero": false}, "axis": null},
        "y": {"field": "s", "type": "quantitative", "scale": {"domain": [-3.8, 104.5], "range": [184.3, 63.3], "nice": false, "zero": false}, "axis": null},
        "stroke": {"field": "g", "type": "nominal", "scale": {"domain": ["IB1", "IB2"], "range": ["#222222", "#e8413c"]}, "legend": null}
      }
    },
    {
      "data": {"name": "median"},
      "transform": [{"filter": {"field": "p", "equal": "C2"}}],
      "mark": {"type": "rule", "strokeDash": [5, 4], "strokeWidth": 1.5, "color": "black"},
      "encoding": {
        "x": {"field": "t0", "type": "quantitative", "scale": {"domain": [-0.5, 10.3], "range": [661, 792.8], "nice": false, "zero": false}, "axis": null},
        "x2": {"field": "t1"},
        "y": {"field": "s0", "type": "quantitative", "scale": {"domain": [-3.8, 104.5], "range": [184.3, 63.3], "nice": false, "zero": false}, "axis": null},
        "y2": {"field": "s1"}
      }
    },
    {
      "data": {"name": "risk"},
      "transform": [{"filter": {"field": "p", "equal": "C2"}}],
      "mark": {"type": "text", "fontSize": 7.5, "color": "#333333"},
      "encoding": {
        "x": {"field": "t", "type": "quantitative", "scale": {"domain": [0, 10], "range": [663, 793], "nice": false, "zero": false}, "axis": null},
        "y": {"field": "g", "type": "nominal", "scale": {"domain": ["IB1", "IB2"], "range": [219.5, 245.5], "padding": 0.5},
              "axis": {"orient": "left", "offset": -641.7, "domain": false, "ticks": false, "tickSize": 0, "labelPadding": 0, "labelAlign": "left", "labelFontSize": 7.5, "labelFontWeight": "bold", "title": null}},
        "text": {"field": "n", "type": "quantitative"}
      }
    },
    {
      "data": {"name": "stats"},
      "transform": [{"filter": {"field": "p", "equal": "C2"}}],
      "mark": {"type": "text", "align": "left", "baseline": "middle", "fontSize": 9.7, "fontWeight": "bold", "color": "#111111"},
      "encoding": {
        "x": {"datum": 0, "type": "quantitative", "scale": {"domain": [0, 1], "range": [663.3, 799]}, "axis": null},
        "y": {"field": "line", "type": "ordinal", "scale": {"range": [258, 285], "padding": 0}, "axis": null},
        "text": {"field": "txt"}
      }
    },
    {
      "data": {"name": "dfs"},
      "transform": [{"filter": {"field": "g", "equal": "IA"}}],
      "mark": {"type": "area", "interpolate": "step-after", "opacity": 0.33},
      "encoding": {
        "x": {"field": "t", "type": "quantitative", "scale": {"domain": [-0.5, 10.43], "range": [55, 188.3], "nice": false, "zero": false}, "axis": null},
        "y": {"field": "lo", "type": "quantitative", "scale": {"domain": [-5.9, 103.9], "range": [512.3, 390], "nice": false, "zero": false}, "axis": null},
        "y2": {"field": "hi"},
        "fill": {"field": "g", "type": "nominal", "scale": {"domain": ["IA"], "range": ["#53bac3"]},
                 "legend": {"orient": "none", "legendX": 83.7, "legendY": 370.5, "direction": "horizontal", "title": null, "labelExpr": "''", "labelFontSize": 11, "symbolType": "square", "symbolSize": 90, "symbolOpacity": 0.4, "symbolStrokeWidth": 0}}
      }
    },
    {
      "data": {"name": "dfs"},
      "transform": [{"filter": {"field": "g", "equal": "IB1"}}],
      "mark": {"type": "area", "interpolate": "step-after", "opacity": 0.33},
      "encoding": {
        "x": {"field": "t", "type": "quantitative", "scale": {"domain": [-0.5, 10.43], "range": [55, 188.3], "nice": false, "zero": false}, "axis": null},
        "y": {"field": "lo", "type": "quantitative", "scale": {"domain": [-5.9, 103.9], "range": [512.3, 390], "nice": false, "zero": false}, "axis": null},
        "y2": {"field": "hi"},
        "fill": {"field": "g", "type": "nominal", "scale": {"domain": ["IB1"], "range": ["#4a4a4a"]},
                 "legend": {"orient": "none", "legendX": 117.2, "legendY": 370.5, "direction": "horizontal", "title": null, "labelExpr": "''", "labelFontSize": 11, "symbolType": "square", "symbolSize": 90, "symbolOpacity": 0.4, "symbolStrokeWidth": 0}}
      }
    },
    {
      "data": {"name": "dfs"},
      "transform": [{"filter": {"field": "g", "equal": "IB2"}}],
      "mark": {"type": "area", "interpolate": "step-after", "opacity": 0.33},
      "encoding": {
        "x": {"field": "t", "type": "quantitative", "scale": {"domain": [-0.5, 10.43], "range": [55, 188.3], "nice": false, "zero": false}, "axis": null},
        "y": {"field": "lo", "type": "quantitative", "scale": {"domain": [-5.9, 103.9], "range": [512.3, 390], "nice": false, "zero": false}, "axis": null},
        "y2": {"field": "hi"},
        "fill": {"field": "g", "type": "nominal", "scale": {"domain": ["IB2"], "range": ["#f0625c"]},
                 "legend": {"orient": "none", "legendX": 156.8, "legendY": 370.5, "direction": "horizontal", "title": null, "labelExpr": "''", "labelFontSize": 11, "symbolType": "square", "symbolSize": 90, "symbolOpacity": 0.4, "symbolStrokeWidth": 0}}
      }
    },
    {
      "data": {"name": "dfs"},
      "transform": [{"filter": {"field": "g", "oneOf": ["IA", "IB1", "IB2"]}}],
      "mark": {"type": "line", "interpolate": "step-after", "strokeWidth": 1.2},
      "encoding": {
        "x": {"field": "t", "type": "quantitative", "scale": {"domain": [-0.5, 10.43], "range": [55, 188.3], "nice": false, "zero": false},
              "axis": {"orient": "bottom", "offset": -70.7, "values": [0, 2.5, 5, 7.5, 10], "format": "~f", "title": "Years", "tickSize": 3, "labelPadding": 1, "labelFontSize": 9, "titleFontSize": 11.5, "titlePadding": 1, "domainWidth": 1.5}},
        "y": {"field": "s", "type": "quantitative", "scale": {"domain": [-5.9, 103.9], "range": [512.3, 390], "nice": false, "zero": false},
              "axis": {"orient": "left", "offset": -55, "values": [0, 25, 50, 75, 100], "title": "DFS(100%)", "tickSize": 3, "labelPadding": 2, "labelFontSize": 9, "titleFontSize": 11, "titlePadding": 3, "domainWidth": 1.5}},
        "stroke": {"field": "g", "type": "nominal", "scale": {"domain": ["IA", "IB1", "IB2"], "range": ["#5bbec6", "#222222", "#e8413c"]},
                   "legend": {"orient": "none", "legendX": 54, "legendY": 370.5, "direction": "horizontal", "title": "Type", "titleOrient": "left", "titleFontSize": 11, "titleFontWeight": "bold", "titlePadding": 4, "labelFontSize": 11, "labelFontWeight": "bold", "symbolType": "M-1,0H1M0,-0.55V0.55", "symbolSize": 90, "symbolStrokeWidth": 1.3, "labelOffset": 5, "columnPadding": 8, "encode": {"symbols": {"update": {"fill": {"value": "transparent"}}}}}}
      }
    },
    {
      "data": {"name": "dfs_cens"},
      "transform": [{"filter": {"field": "g", "oneOf": ["IA", "IB1", "IB2"]}}],
      "mark": {"type": "point", "shape": "M-1,0H1M0,-1V1", "size": 22, "strokeWidth": 1, "filled": false, "opacity": 1},
      "encoding": {
        "x": {"field": "t", "type": "quantitative", "scale": {"domain": [-0.5, 10.43], "range": [55, 188.3], "nice": false, "zero": false}, "axis": null},
        "y": {"field": "s", "type": "quantitative", "scale": {"domain": [-5.9, 103.9], "range": [512.3, 390], "nice": false, "zero": false}, "axis": null},
        "stroke": {"field": "g", "type": "nominal", "scale": {"domain": ["IA", "IB1", "IB2"], "range": ["#5bbec6", "#222222", "#e8413c"]}, "legend": null}
      }
    },
    {
      "data": {"name": "median"},
      "transform": [{"filter": {"field": "p", "equal": "D"}}],
      "mark": {"type": "rule", "strokeDash": [5, 4], "strokeWidth": 1.5, "color": "black"},
      "encoding": {
        "x": {"field": "t0", "type": "quantitative", "scale": {"domain": [-0.5, 10.43], "range": [55, 188.3], "nice": false, "zero": false}, "axis": null},
        "x2": {"field": "t1"},
        "y": {"field": "s0", "type": "quantitative", "scale": {"domain": [-5.9, 103.9], "range": [512.3, 390], "nice": false, "zero": false}, "axis": null},
        "y2": {"field": "s1"}
      }
    },
    {
      "data": {"name": "risk"},
      "transform": [{"filter": {"field": "p", "equal": "D"}}],
      "mark": {"type": "text", "fontSize": 7.5, "color": "#333333"},
      "encoding": {
        "x": {"field": "t", "type": "quantitative", "scale": {"domain": [0, 10], "range": [59, 186], "nice": false, "zero": false},
              "axis": {"orient": "top", "offset": 0, "domain": false, "ticks": false, "labels": false, "title": "D", "titleAngle": 0, "titleX": 2, "titleY": 342.5, "titleAlign": "left", "titleBaseline": "alphabetic", "titleFontSize": 19, "titleFontWeight": "bold"}},
        "y": {"field": "g", "type": "nominal", "scale": {"domain": ["IA", "IB1", "IB2"], "range": [542.2, 578.8], "padding": 0.5},
              "axis": {"orient": "left", "offset": -32, "domain": false, "ticks": false, "tickSize": 0, "labelPadding": 0, "labelAlign": "left", "labelFontSize": 9.5, "labelFontWeight": "bold", "title": null}},
        "text": {"field": "n", "type": "quantitative"}
      }
    },
    {
      "data": {"name": "stats"},
      "transform": [{"filter": {"field": "p", "equal": "D1"}}],
      "mark": {"type": "text", "align": "left", "baseline": "middle", "fontSize": 9.7, "fontWeight": "bold", "color": "#111111"},
      "encoding": {
        "x": {"datum": 0, "type": "quantitative", "scale": {"domain": [0, 1], "range": [223.3, 400]}, "axis": null},
        "y": {"field": "line", "type": "ordinal", "scale": {"range": [416.7, 437.7], "padding": 0}, "axis": null},
        "text": {"field": "txt"}
      }
    },
    {
      "data": {"name": "stats"},
      "transform": [{"filter": {"field": "p", "equal": "D2"}}],
      "mark": {"type": "text", "align": "left", "baseline": "middle", "fontSize": 9.7, "fontWeight": "bold", "color": "#111111"},
      "encoding": {
        "x": {"datum": 0, "type": "quantitative", "scale": {"domain": [0, 1], "range": [223.3, 400]}, "axis": null},
        "y": {"field": "line", "type": "ordinal", "scale": {"range": [466.7, 488], "padding": 0}, "axis": null},
        "text": {"field": "txt"}
      }
    },
    {
      "data": {"name": "dfs"},
      "transform": [{"filter": {"field": "g", "equal": "IB1"}}],
      "mark": {"type": "area", "interpolate": "step-after", "opacity": 0.33},
      "encoding": {
        "x": {"field": "t", "type": "quantitative", "scale": {"domain": [-0.47, 10.45], "range": [469, 602.3], "nice": false, "zero": false}, "axis": null},
        "y": {"field": "lo", "type": "quantitative", "scale": {"domain": [-4.5, 104.5], "range": [513.3, 391.7], "nice": false, "zero": false}, "axis": null},
        "y2": {"field": "hi"},
        "fill": {"field": "g", "type": "nominal", "scale": {"domain": ["IB1"], "range": ["#4a4a4a"]},
                 "legend": {"orient": "none", "legendX": 501.4, "legendY": 373.5, "direction": "horizontal", "title": null, "labelExpr": "''", "labelFontSize": 11, "symbolType": "square", "symbolSize": 90, "symbolOpacity": 0.4, "symbolStrokeWidth": 0}}
      }
    },
    {
      "data": {"name": "dfs"},
      "transform": [{"filter": {"field": "g", "equal": "IB2"}}],
      "mark": {"type": "area", "interpolate": "step-after", "opacity": 0.33},
      "encoding": {
        "x": {"field": "t", "type": "quantitative", "scale": {"domain": [-0.47, 10.45], "range": [469, 602.3], "nice": false, "zero": false}, "axis": null},
        "y": {"field": "lo", "type": "quantitative", "scale": {"domain": [-4.5, 104.5], "range": [513.3, 391.7], "nice": false, "zero": false}, "axis": null},
        "y2": {"field": "hi"},
        "fill": {"field": "g", "type": "nominal", "scale": {"domain": ["IB2"], "range": ["#f0625c"]},
                 "legend": {"orient": "none", "legendX": 541, "legendY": 373.5, "direction": "horizontal", "title": null, "labelExpr": "''", "labelFontSize": 11, "symbolType": "square", "symbolSize": 90, "symbolOpacity": 0.4, "symbolStrokeWidth": 0}}
      }
    },
    {
      "data": {"name": "dfs"},
      "transform": [{"filter": {"field": "g", "equal": "II"}}],
      "mark": {"type": "area", "interpolate": "step-after", "opacity": 0.33},
      "encoding": {
        "x": {"field": "t", "type": "quantitative", "scale": {"domain": [-0.47, 10.45], "range": [469, 602.3], "nice": false, "zero": false}, "axis": null},
        "y": {"field": "lo", "type": "quantitative", "scale": {"domain": [-4.5, 104.5], "range": [513.3, 391.7], "nice": false, "zero": false}, "axis": null},
        "y2": {"field": "hi"},
        "fill": {"field": "g", "type": "nominal", "scale": {"domain": ["II"], "range": ["#53bac3"]},
                 "legend": {"orient": "none", "legendX": 580.6, "legendY": 373.5, "direction": "horizontal", "title": null, "labelExpr": "''", "labelFontSize": 11, "symbolType": "square", "symbolSize": 90, "symbolOpacity": 0.4, "symbolStrokeWidth": 0}}
      }
    },
    {
      "data": {"name": "dfs"},
      "transform": [{"filter": {"field": "g", "oneOf": ["IB1", "IB2", "II"]}}],
      "mark": {"type": "line", "interpolate": "step-after", "strokeWidth": 1.2},
      "encoding": {
        "x": {"field": "t", "type": "quantitative", "scale": {"domain": [-0.47, 10.45], "range": [469, 602.3], "nice": false, "zero": false},
              "axis": {"orient": "bottom", "offset": -69.7, "values": [0, 2.5, 5, 7.5, 10], "format": "~f", "title": "Years", "tickSize": 3, "labelPadding": 1, "labelFontSize": 9, "titleFontSize": 11.5, "titlePadding": 1, "domainWidth": 1.5}},
        "y": {"field": "s", "type": "quantitative", "scale": {"domain": [-4.5, 104.5], "range": [513.3, 391.7], "nice": false, "zero": false},
              "axis": {"orient": "left", "offset": -469, "values": [0, 25, 50, 75, 100], "title": "DFS(100%)", "tickSize": 3, "labelPadding": 2, "labelFontSize": 9, "titleFontSize": 11, "titlePadding": 3, "domainWidth": 1.5}},
        "stroke": {"field": "g", "type": "nominal", "scale": {"domain": ["IB1", "IB2", "II"], "range": ["#222222", "#e8413c", "#5bbec6"]},
                   "legend": {"orient": "none", "legendX": 471.7, "legendY": 373.5, "direction": "horizontal", "title": "Type", "titleOrient": "left", "titleFontSize": 11, "titleFontWeight": "bold", "titlePadding": 4, "labelFontSize": 11, "labelFontWeight": "bold", "symbolType": "M-1,0H1M0,-0.55V0.55", "symbolSize": 90, "symbolStrokeWidth": 1.3, "labelOffset": 5, "columnPadding": 8, "encode": {"symbols": {"update": {"fill": {"value": "transparent"}}}}}}
      }
    },
    {
      "data": {"name": "dfs_cens"},
      "transform": [{"filter": {"field": "g", "oneOf": ["IB1", "IB2", "II"]}}],
      "mark": {"type": "point", "shape": "M-1,0H1M0,-1V1", "size": 22, "strokeWidth": 1, "filled": false, "opacity": 1},
      "encoding": {
        "x": {"field": "t", "type": "quantitative", "scale": {"domain": [-0.47, 10.45], "range": [469, 602.3], "nice": false, "zero": false}, "axis": null},
        "y": {"field": "s", "type": "quantitative", "scale": {"domain": [-4.5, 104.5], "range": [513.3, 391.7], "nice": false, "zero": false}, "axis": null},
        "stroke": {"field": "g", "type": "nominal", "scale": {"domain": ["IB1", "IB2", "II"], "range": ["#222222", "#e8413c", "#5bbec6"]}, "legend": null}
      }
    },
    {
      "data": {"name": "median"},
      "transform": [{"filter": {"field": "p", "equal": "E"}}],
      "mark": {"type": "rule", "strokeDash": [5, 4], "strokeWidth": 1.5, "color": "black"},
      "encoding": {
        "x": {"field": "t0", "type": "quantitative", "scale": {"domain": [-0.47, 10.45], "range": [469, 602.3], "nice": false, "zero": false}, "axis": null},
        "x2": {"field": "t1"},
        "y": {"field": "s0", "type": "quantitative", "scale": {"domain": [-4.5, 104.5], "range": [513.3, 391.7], "nice": false, "zero": false}, "axis": null},
        "y2": {"field": "s1"}
      }
    },
    {
      "data": {"name": "risk"},
      "transform": [{"filter": {"field": "p", "equal": "E"}}],
      "mark": {"type": "text", "fontSize": 7.5, "color": "#333333"},
      "encoding": {
        "x": {"field": "t", "type": "quantitative", "scale": {"domain": [0, 10], "range": [467, 600], "nice": false, "zero": false},
              "axis": {"orient": "top", "offset": 0, "domain": false, "ticks": false, "labels": false, "title": "E", "titleAngle": 0, "titleX": 420, "titleY": 346.5, "titleAlign": "left", "titleBaseline": "alphabetic", "titleFontSize": 19, "titleFontWeight": "bold"}},
        "y": {"field": "g", "type": "nominal", "scale": {"domain": ["IB1", "IB2", "II"], "range": [545.5, 583], "padding": 0.5},
              "axis": {"orient": "left", "offset": -444, "domain": false, "ticks": false, "tickSize": 0, "labelPadding": 0, "labelAlign": "left", "labelFontSize": 9.5, "labelFontWeight": "bold", "title": null}},
        "text": {"field": "n", "type": "quantitative"}
      }
    },
    {
      "data": {"name": "stats"},
      "transform": [{"filter": {"field": "p", "equal": "E1"}}],
      "mark": {"type": "text", "align": "left", "baseline": "middle", "fontSize": 9.7, "fontWeight": "bold", "color": "#111111"},
      "encoding": {
        "x": {"datum": 0, "type": "quantitative", "scale": {"domain": [0, 1], "range": [645, 799]}, "axis": null},
        "y": {"field": "line", "type": "ordinal", "scale": {"range": [416.7, 436.7], "padding": 0}, "axis": null},
        "text": {"field": "txt"}
      }
    },
    {
      "data": {"name": "stats"},
      "transform": [{"filter": {"field": "p", "equal": "E2"}}],
      "mark": {"type": "text", "align": "left", "baseline": "middle", "fontSize": 9.7, "fontWeight": "bold", "color": "#111111"},
      "encoding": {
        "x": {"datum": 0, "type": "quantitative", "scale": {"domain": [0, 1], "range": [645, 799]}, "axis": null},
        "y": {"field": "line", "type": "ordinal", "scale": {"range": [465.7, 488], "padding": 0}, "axis": null},
        "text": {"field": "txt"}
      }
    }
  ]
}
